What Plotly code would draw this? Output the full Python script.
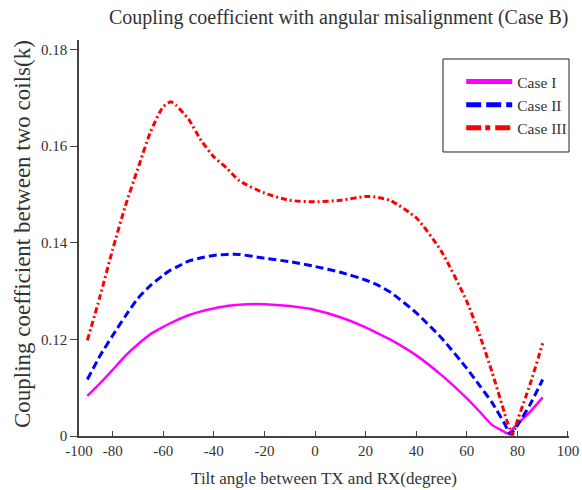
import plotly.graph_objects as go

# Tilt angle (degree)
angles = [-90, -85, -80, -75, -70, -65, -60, -57, -55, -50, -45, -40, -35, -30,
          -20, -10, 0, 10, 20, 25, 30, 40, 50, 60, 65, 70, 75, 76, 77, 78, 80, 85, 90]

case_i = [0.1083, 0.1109, 0.1137, 0.1166, 0.1190, 0.1211, 0.1226, 0.1234, 0.1239, 0.1250,
          0.1258, 0.1264, 0.1269, 0.1272, 0.1273, 0.1269, 0.1261, 0.1246, 0.1225, 0.1212,
          0.1199, 0.1167, 0.1126, 0.1078, 0.1051, 0.1023, 0.1008, 0.1005, 0.1008, 0.1014,
          0.1025, 0.1050, 0.1080]

case_ii = [0.1117, 0.1166, 0.1208, 0.1248, 0.1285, 0.1312, 0.1333, 0.1344, 0.1349, 0.1362,
           0.1369, 0.1374, 0.1376, 0.1376, 0.1368, 0.1361, 0.1351, 0.1339, 0.1323, 0.1312,
           0.1297, 0.1255, 0.1203, 0.1140, 0.1105, 0.1069, 0.1025, 0.1014, 0.1004, 0.1008,
           0.1022, 0.1065, 0.1117]

case_iii = [0.1198, 0.1289, 0.1386, 0.1476, 0.1554, 0.1630, 0.1682, 0.1692, 0.1685, 0.1656,
            0.1612, 0.1578, 0.1555, 0.1529, 0.1503, 0.1488, 0.1485, 0.1488, 0.1496, 0.1494,
            0.1487, 0.1452, 0.1382, 0.1279, 0.1210, 0.1132, 0.1046, 0.1029, 0.1015, 0.1002,
            0.1032, 0.1107, 0.1192]

series_names = ["Case I", "Case II", "Case III"]

x_tick_vals = [-93.3, -80, -60, -40, -20, 0, 20, 40, 60, 80, 100]
x_tick_text = ["-100", "-80", "-60", "-40", "-20", "0", "20", "40", "60", "80", "100"]
y_tick_vals = [0.10, 0.12, 0.14, 0.16, 0.18]
y_tick_text = ["0", "0.12", "0.14", "0.16", "0.18"]

SERIF = "Liberation Serif"
TXT = "#333333"
styles = [
    dict(color="#FF00FF", width=2.5, dash="solid"),
    dict(color="#0000FF", width=3, dash="8px,4px"),
    dict(color="#FF0000", width=3, dash="6px,3px,2px,3px"),
]
legend_styles = [
    dict(color="#FF00FF", width=5, dash="solid"),
    dict(color="#0000FF", width=5, dash="15px,5px"),
    dict(color="#FF0000", width=5, dash="15px,4px,5px,5px"),
]

fig = go.Figure()
for name, ys, st in zip(series_names, [case_i, case_ii, case_iii], styles):
    fig.add_trace(go.Scatter(x=angles, y=ys, mode="lines", name=name,
                             line=dict(**st, shape="spline", smoothing=0.6),
                             showlegend=False))
for name, st in zip(series_names, legend_styles):
    fig.add_trace(go.Scatter(x=[None], y=[None], mode="lines", name=name,
                             line=st, showlegend=True))

fig.update_layout(
    width=582, height=490,
    margin=dict(l=79, r=13, t=40, b=54, autoexpand=False),
    paper_bgcolor="white", plot_bgcolor="white",
    font=dict(family=SERIF, color=TXT, size=15),
    title=dict(text="Coupling coefficient with angular misalignment (Case B)",
               x=0.582, xanchor="center", y=0.965, yanchor="middle",
               font=dict(family=SERIF, size=20, color=TXT)),
    legend=dict(x=0.780, y=0.937, xanchor="left", yanchor="top",
                bgcolor="rgba(0,0,0,0)", borderwidth=0,
                font=dict(family=SERIF, size=15.5, color=TXT),
                itemwidth=46, tracegroupgap=0),
    shapes=[dict(type="rect", xref="paper", yref="paper",
                 x0=0.7429, x1=1.0, y0=0.7172, y1=0.952,
                 line=dict(color="#222222", width=1), fillcolor="rgba(0,0,0,0)",
                 layer="above")],
    xaxis=dict(range=[-93.3, 100.4], tickmode="array", tickvals=x_tick_vals,
               ticktext=x_tick_text, ticks="inside", ticklen=5, tickcolor="#444444",
               showline=True, linecolor="#444444", linewidth=1.5, showgrid=False,
               zeroline=False, automargin=False,
               tickfont=dict(family=SERIF, size=15, color=TXT),
               title=dict(text="Tilt angle between TX and RX(degree)", standoff=14,
                          font=dict(family=SERIF, size=17, color=TXT))),
    yaxis=dict(range=[0.1, 0.182], tickmode="array", tickvals=y_tick_vals,
               ticktext=y_tick_text, ticks="outside", ticklen=7, tickcolor="#444444",
               showline=True, linecolor="#444444", linewidth=1.5, showgrid=False,
               zeroline=False, automargin=False,
               tickfont=dict(family=SERIF, size=15, color=TXT)),
    annotations=[dict(text="Coupling coefficient between two coils(k)",
                      xref="paper", yref="paper", x=-0.1163, y=0.51,
                      xanchor="center", yanchor="middle", textangle=-90,
                      showarrow=False, font=dict(family=SERIF, size=23, color=TXT))],
)

fig.write_html("out.html", config={"displayModeBar": False},
               post_script="document.body.style.margin='0';document.body.style.overflow='hidden';")
